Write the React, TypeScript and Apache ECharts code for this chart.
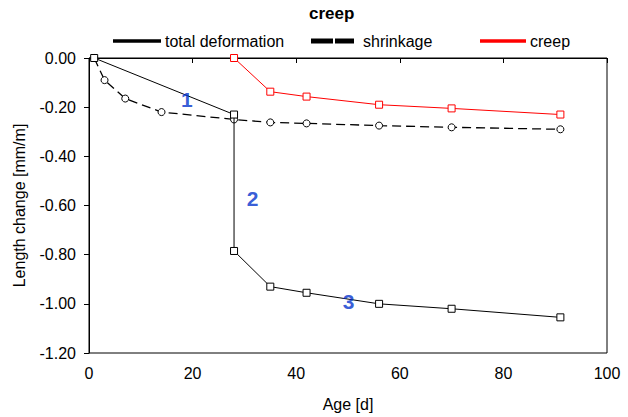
import React, { useEffect, useRef } from "react";
import * as echarts from "echarts";

const totalDays = [1, 28, 28, 35, 42, 56, 70, 91];
const totalValues = [0, -0.23, -0.785, -0.93, -0.955, -1.0, -1.02, -1.055];

const shrinkDays = [1, 3, 7, 14, 28, 35, 42, 56, 70, 91];
const shrinkValues = [0, -0.09, -0.165, -0.22, -0.25, -0.262, -0.266, -0.275, -0.282, -0.29];

const creepDays = [28, 35, 42, 56, 70, 91];
const creepValues = [0, -0.137, -0.157, -0.19, -0.205, -0.23];

const annotationX = [18.9, 31.6, 50.1];
const annotationY = [-0.17, -0.57, -0.99];
const annotationText = ["1", "2", "3"];

const FONT = "'Liberation Sans', Arial, sans-serif";

function zip(xs: number[], ys: number[]) {
  return xs.map((x, i) => [x, ys[i]]);
}

const legendText = { fontFamily: FONT, fontSize: 16, color: "#000" };

export default function App() {
  const ref = useRef<HTMLDivElement>(null);
  useEffect(() => {
    if (!ref.current) return;
    const chart = echarts.init(ref.current, null, { renderer: "svg" });
    chart.setOption({
      animation: false,
      backgroundColor: "#fff",
      textStyle: { fontFamily: FONT },
      title: {
        text: "creep",
        left: 304,
        top: 0,
        textStyle: { fontFamily: FONT, fontSize: 17, fontWeight: "bold", color: "#000" },
      },
      legend: [
        {
          top: 28,
          left: 108,
          itemWidth: 46,
          itemHeight: 1.5,
          textStyle: legendText,
          data: [{ name: "total deformation", icon: "path://M0,0H46V1.5H0Z", itemStyle: { color: "#000" } }],
        },
        {
          top: 28,
          left: 306,
          itemWidth: 41,
          itemHeight: 3,
          textStyle: { ...legendText, padding: [0, 0, 0, 5] },
          data: [{ name: "shrinkage", icon: "path://M0,0H20V3H0ZM24,0H41V3H24Z", itemStyle: { color: "#000" } }],
        },
        {
          top: 28,
          left: 475,
          itemWidth: 44,
          itemHeight: 1.5,
          textStyle: legendText,
          data: [{ name: "creep", icon: "path://M0,0H44V1.5H0Z", itemStyle: { color: "#ff0000" } }],
        },
      ],
      grid: {
        left: 89,
        right: 21,
        top: 58,
        bottom: 60,
        show: true,
        borderColor: "#000",
        borderWidth: 1,
        containLabel: false,
      },
      xAxis: {
        type: "value",
        min: 0,
        max: 100,
        interval: 20,
        name: "Age [d]",
        nameLocation: "middle",
        nameGap: 43,
        nameTextStyle: { fontFamily: FONT, fontSize: 16, color: "#000" },
        axisLine: { show: true, lineStyle: { color: "#000", width: 1 } },
        axisTick: { show: true, length: 5, lineStyle: { color: "#000" } },
        axisLabel: { fontFamily: FONT, fontSize: 16, color: "#000", margin: 12 },
        splitLine: { show: false },
      },
      yAxis: {
        type: "value",
        min: -1.2,
        max: 0,
        interval: 0.2,
        name: "Length change [mm/m]",
        nameLocation: "middle",
        nameGap: 62,
        nameRotate: 90,
        nameTextStyle: { fontFamily: FONT, fontSize: 16, color: "#000" },
        axisLine: { show: true, lineStyle: { color: "#000", width: 1 } },
        axisTick: { show: true, length: 5, lineStyle: { color: "#000" } },
        axisLabel: {
          fontFamily: FONT,
          fontSize: 16,
          color: "#000",
          margin: 13,
          formatter: (v: number) => v.toFixed(2),
        },
        splitLine: { show: false },
      },
      series: [
        {
          name: "total deformation",
          type: "line",
          data: zip(totalDays, totalValues),
          symbol: "rect",
          symbolSize: 7,
          showAllSymbol: true,
          lineStyle: { color: "#000", width: 1 },
          itemStyle: { color: "#fff", borderColor: "#000", borderWidth: 1 },
          z: 3,
        },
        {
          name: "shrinkage",
          type: "line",
          data: zip(shrinkDays, shrinkValues),
          symbol: "circle",
          symbolSize: 7,
          showAllSymbol: true,
          lineStyle: { color: "#000", width: 1.3, type: [9, 5] },
          itemStyle: { color: "#fff", borderColor: "#000", borderWidth: 1 },
          z: 2,
        },
        {
          name: "creep",
          type: "line",
          data: zip(creepDays, creepValues),
          symbol: "rect",
          symbolSize: 7,
          showAllSymbol: true,
          lineStyle: { color: "#ff0000", width: 1 },
          itemStyle: { color: "#fff", borderColor: "#ff0000", borderWidth: 1 },
          z: 2,
        },
        {
          name: "annotations",
          type: "scatter",
          symbolSize: 0,
          data: annotationX.map((x, i) => ({ value: [x, annotationY[i]], name: annotationText[i] })),
          label: {
            show: true,
            position: "inside",
            formatter: (p: any) => p.name,
            fontFamily: FONT,
            fontSize: 21,
            fontWeight: "bold",
            color: "#0433cc",
          },
          silent: true,
          z: 5,
        },
      ],
    });
    return () => chart.dispose();
  }, []);
  return (
    <div
      ref={ref}
      style={{ position: "absolute", left: 0, top: 0, width: 628, height: 417 }}
    />
  );
}
